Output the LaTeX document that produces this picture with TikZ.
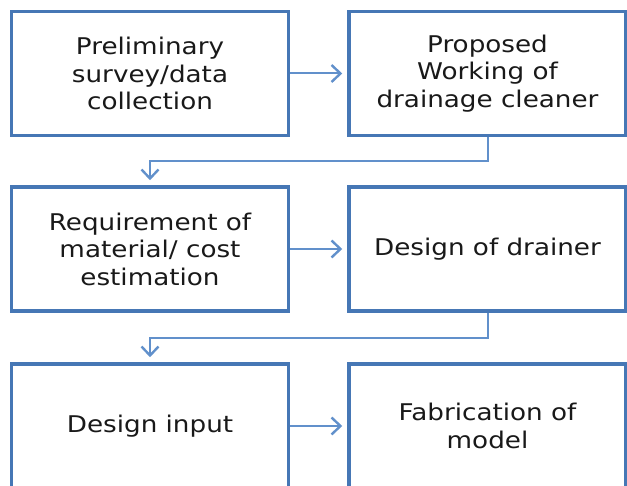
\documentclass[tikz,border=0pt]{standalone}
\usepackage{fontspec}
\setmainfont{DejaVu Sans}[FakeStretch=1.14]
\usepackage[dvipsnames]{xcolor}
\usepackage{tikz}
\usetikzlibrary{arrows.meta}

\definecolor{boxblue}{HTML}{4677B5}
\definecolor{linkblue}{HTML}{6190CB}

\begin{document}
\begin{tikzpicture}[x=1pt,y=-1pt,
   stage/.style={draw=boxblue,line width=3.5pt,fill=white,
      minimum width=277pt,minimum height=124pt,align=center,
      text=black!90,font=\fontsize{23}{27.5}\selectfont},
   link/.style={draw=linkblue,line width=2pt,
      -{Straight Barb[length=9pt,width=17pt,line width=2.4pt]},
      shorten >=5pt}]
   \useasboundingbox (0,0) rectangle (627,486);

   \node[stage] (survey) at (150,73.5) {Preliminary\\survey/data\\collection};
   \node[stage] (working) at (487.5,73.5) {Proposed\\Working of\\drainage cleaner};
   \node[stage] (material) at (150,249) {Requirement of\\material/ cost\\estimation};
   \node[stage] (drainer) at (487.5,249) {Design of drainer};
   \node[stage] (input) at (150,426) {Design input};
   \node[stage] (model) at (487.5,426) {Fabrication of\\model};

   \draw[link] (survey) -- (working);
   \draw[link] (material) -- (drainer);
   \draw[link] (input) -- (model);

   % turn back to the left column
   \draw[link] (working.south) -- ++(0,24) -| (material.north);
   \draw[link] (drainer.south) -- ++(0,25) -| (input.north);

\end{tikzpicture}
\end{document}
